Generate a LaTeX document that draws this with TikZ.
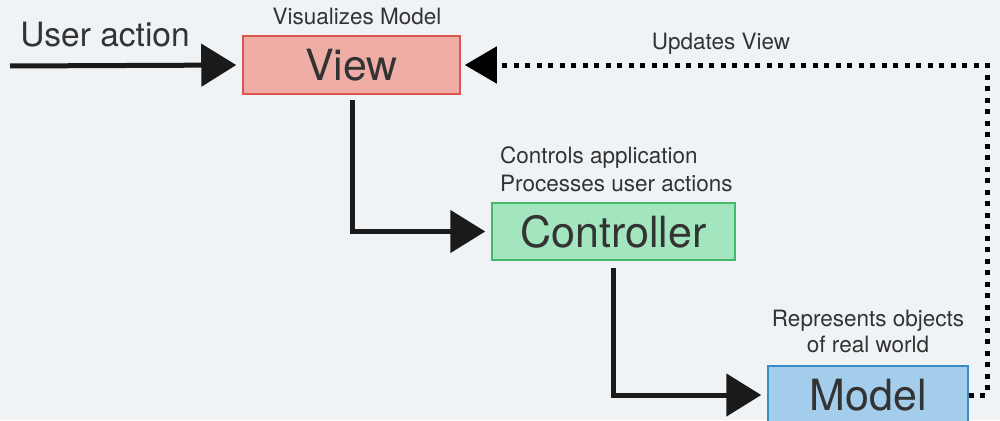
\documentclass[tikz,border=0pt]{standalone}
\usepackage{fontspec}
\setmainfont{TeX Gyre Heros}
\usetikzlibrary{arrows.meta}
\definecolor{bg}{HTML}{F0F3F6}
\definecolor{viewfill}{HTML}{EFADA6}
\definecolor{viewdraw}{HTML}{D9574F}
\definecolor{ctrlfill}{HTML}{A2E5BE}
\definecolor{ctrldraw}{HTML}{45B86C}
\definecolor{modelfill}{HTML}{A3CDEB}
\definecolor{modeldraw}{HTML}{3A8CC4}
\definecolor{txt}{HTML}{333333}
\definecolor{arr}{HTML}{1A1A1A}
\tikzset{
  box/.style={draw, line width=1.5pt, inner sep=0pt, text=txt, font=\fontsize{43}{43}\selectfont},
  lbl/.style={inner sep=0pt, text=txt, font=\fontsize{22.5}{26}\selectfont},
  flow/.style={draw=arr, line width=5pt, shorten >=6pt, -{Triangle[length=35pt,width=42pt]}},
  dots/.style={draw=black, line width=5pt, dash pattern=on 5pt off 6.5pt, shorten >=4pt, -{Triangle[length=32pt,width=36pt]}}
}
\begin{document}
\begin{tikzpicture}[x=1pt,y=-1pt]
\fill[bg] (0,0) rectangle (1000,420);
\useasboundingbox (0,0) rectangle (1000,420);
\node[box, fill=viewfill, draw=viewdraw, minimum width=217pt, minimum height=58pt] (view) at (351.5,65) {View};
\node[box, fill=ctrlfill, draw=ctrldraw, minimum width=243pt, minimum height=57pt] (ctrl) at (613.5,231.5) {Controller};
\node[box, fill=modelfill, draw=modeldraw, minimum width=200pt, minimum height=58pt] (model) at (868,395) {Model};
\node[lbl, anchor=base, font=\fontsize{33.5}{33}\selectfont] (ua) at (105,47) {User action};
\node[lbl, anchor=base] (vm) at (357,25) {Visualizes Model};
\node[lbl, anchor=base] (uv) at (721,49) {Updates View};
\node[lbl, anchor=base west] (ca) at (500,163) {Controls application};
\node[lbl, anchor=base west] (pu) at (500,191) {Processes user actions};
\node[lbl, anchor=base] (ro) at (868,326) {Represents objects};
\node[lbl, anchor=base] (rw) at (868,352) {of real world};
\coordinate (uastart) at (10,66);
\coordinate (vc) at (352,100);
\coordinate (cc) at (613,268);
\coordinate (corner) at (987,65);
\draw[flow] (uastart) -- (view.west);
\draw[flow] (vc) |- (ctrl.west);
\draw[flow] (cc) |- (model.west);
\draw[dots] (model.east) -| (corner) -- (view.east);
\end{tikzpicture}
\end{document}
